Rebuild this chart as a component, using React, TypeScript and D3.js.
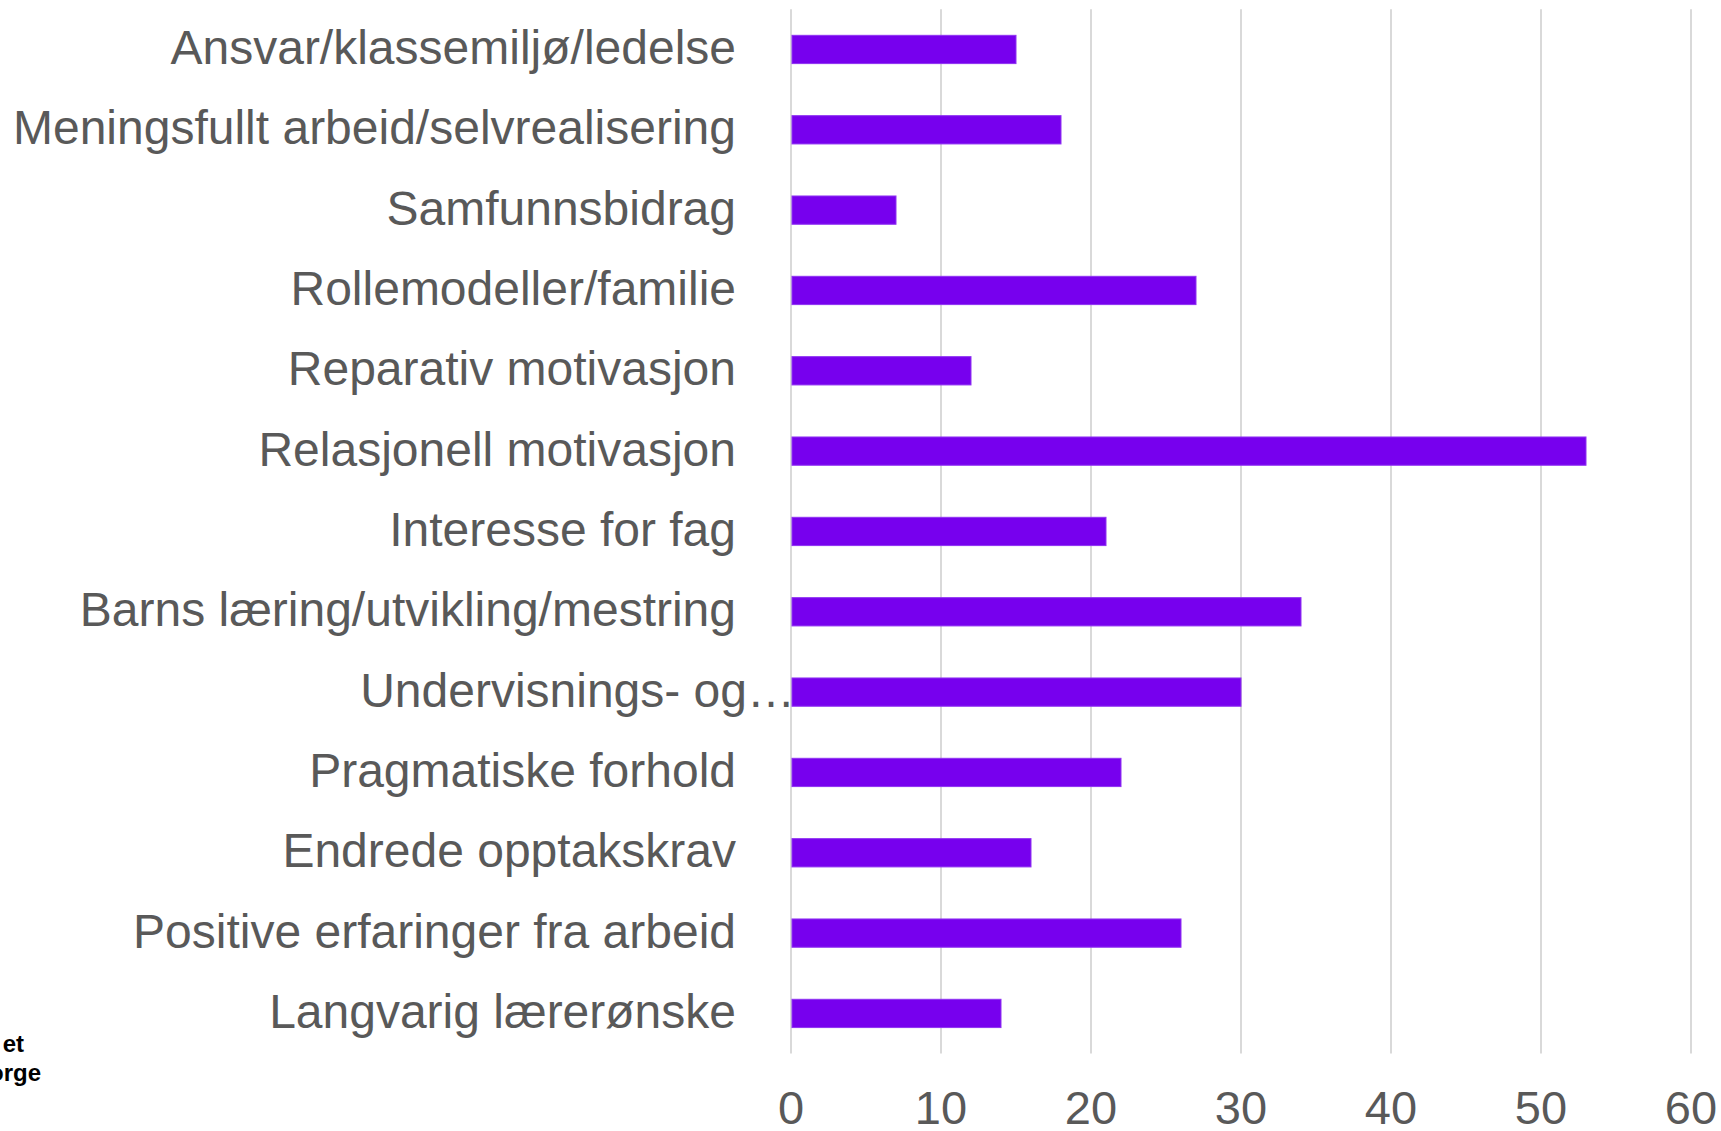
import React from "react";
import * as d3 from "d3";

const categories = [
  "Ansvar/klassemiljø/ledelse",
  "Meningsfullt arbeid/selvrealisering",
  "Samfunnsbidrag",
  "Rollemodeller/familie",
  "Reparativ motivasjon",
  "Relasjonell motivasjon",
  "Interesse for fag",
  "Barns læring/utvikling/mestring",
  "Undervisnings- og…",
  "Pragmatiske forhold",
  "Endrede opptakskrav",
  "Positive erfaringer fra arbeid",
  "Langvarig lærerønske",
];
const values = [15, 18, 7, 27, 12, 53, 21, 34, 30, 22, 16, 26, 14];
const ticks = [0, 10, 20, 30, 40, 50, 60];
// logo text, cut off at the left edge in the original
const footer = ["et", "orge"];

const width = 1721;
const height = 1131;
const font = "'Liberation Sans', Arial, sans-serif";

const App = () => {
  const x = d3.scaleLinear().domain([0, 60]).range([791, 1691]);
  const y = d3
    .scaleBand()
    .domain(categories)
    .range([9.3, 1053.6])
    .paddingInner(0.648)
    .paddingOuter(0.324);

  return (
    <svg
      width={width}
      height={height}
      style={{ position: "absolute", left: 0, top: 0, background: "#fff" }}
    >
      {ticks.map(t => (
        <line
          key={"g" + t}
          x1={x(t)}
          x2={x(t)}
          y1={9.3}
          y2={1053.6}
          stroke="#d9d9d9"
          strokeWidth={2}
        />
      ))}
      {categories.map((c, i) => (
        <rect
          key={c}
          x={x(0) + 1}
          y={y(c)}
          width={x(values[i]) - x(0) - 1}
          height={y.bandwidth()}
          fill="#7700ee"
          stroke="#8f33f2"
          strokeWidth={1}
        />
      ))}
      {categories.map(c => (
        <text
          key={"l" + c}
          x={c.endsWith("…") ? 795 : 736}
          y={y(c) + y.bandwidth() / 2}
          dy="0.3em"
          textAnchor="end"
          fontFamily={font}
          fontSize={48}
          fill="#595959"
        >
          {c}
        </text>
      ))}
      {ticks.map(t => (
        <text
          key={"t" + t}
          x={x(t)}
          y={1124}
          textAnchor="middle"
          fontFamily={font}
          fontSize={47}
          fill="#595959"
        >
          {t}
        </text>
      ))}
      <text
        x={24}
        y={1052}
        textAnchor="end"
        fontFamily={font}
        fontSize={24}
        fontWeight="bold"
        fill="#000"
      >
        {footer[0]}
      </text>
      <text
        x={41}
        y={1081}
        textAnchor="end"
        fontFamily={font}
        fontSize={24}
        fontWeight="bold"
        fill="#000"
      >
        {footer[1]}
      </text>
    </svg>
  );
};

export default App;
